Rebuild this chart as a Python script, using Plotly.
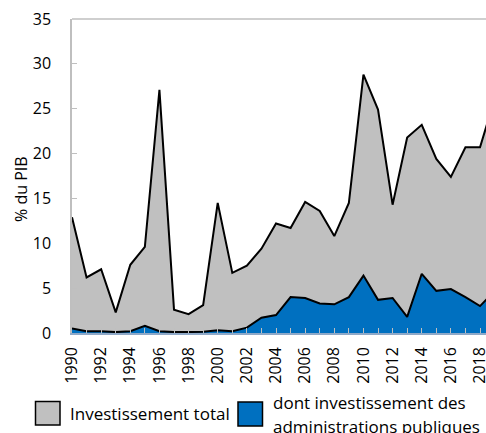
import plotly.graph_objects as go

years = list(range(1990, 2020))
total = [12.9, 6.2, 7.1, 2.3, 7.6, 9.6, 27.1, 2.6, 2.1, 3.1, 14.5, 6.7, 7.5, 9.4, 12.2, 11.7,
         14.6, 13.6, 10.8, 14.5, 28.8, 24.9, 14.3, 21.8, 23.2, 19.4, 17.4, 20.7, 20.7, 26.1]
public = [0.5, 0.2, 0.2, 0.1, 0.2, 0.8, 0.2, 0.1, 0.1, 0.15, 0.3, 0.2, 0.6, 1.7, 2.0, 4.0,
          3.9, 3.3, 3.2, 4.0, 6.4, 3.7, 3.9, 1.8, 6.6, 4.7, 4.9, 4.0, 3.0, 4.7]
tick_text = [str(y) if y % 2 == 0 else "" for y in years]
y_ticks = [0, 5, 10, 15, 20, 25, 30, 35]
legend_names = ["Investissement total", "dont investissement des", "administrations publiques"]

FONT = "Open Sans"
W, H = 486, 433
ML, MT = 72, 19
MR = 0
MB = H - 333
PW, PH = W - ML - MR, H - MT - MB

def px(x):
    return (x - ML) / PW

def py(y):
    return 1 - (y - MT) / PH

fig = go.Figure()
fig.add_trace(go.Scatter(x=years, y=total, mode="lines", fill="tozeroy",
                         fillcolor="#c0c0c0", line=dict(color="black", width=2),
                         name=legend_names[0], showlegend=False, hoverinfo="skip"))
fig.add_trace(go.Scatter(x=years, y=public, mode="lines", fill="tozeroy",
                         fillcolor="#0070c0", line=dict(color="black", width=2),
                         name=legend_names[1], showlegend=False, hoverinfo="skip"))

fig.update_layout(
    width=W, height=H,
    margin=dict(l=ML, r=MR, t=MT, b=MB, autoexpand=False),
    plot_bgcolor="white", paper_bgcolor="white",
    font=dict(family=FONT, size=16, color="black"),
    showlegend=False,
)
fig.update_xaxes(range=[1990, 2018.41], tickmode="array", tickvals=years, ticktext=tick_text,
                 tickangle=-90, ticks="inside", ticklen=5, tickcolor="#bfbfbf",
                 showline=True, linecolor="#8fa9c8", linewidth=1.5, mirror=False,
                 showgrid=False, zeroline=False, ticklabelstandoff=6, automargin=False,
                 ticklabeloverflow="allow", tickfont=dict(size=16, family=FONT))
fig.update_yaxes(range=[0, 35], tickmode="array", tickvals=y_ticks,
                 ticks="inside", ticklen=5, tickcolor="#bfbfbf",
                 showline=True, linecolor="#bfbfbf", linewidth=1.5,
                 showgrid=False, zeroline=False, ticklabelstandoff=16, automargin=False,
                 ticklabeloverflow="allow", tickfont=dict(size=16, family=FONT))

# top border line
fig.add_shape(type="line", xref="paper", yref="paper", x0=0, x1=1, y0=1, y1=1,
              line=dict(color="#bfbfbf", width=1.5))

# y axis title
fig.add_annotation(text="% du PIB", xref="paper", yref="paper", x=px(21), y=py(189),
                   textangle=-90, showarrow=False, xanchor="center", yanchor="middle",
                   font=dict(size=16, family=FONT))

# manual legend
fig.add_shape(type="rect", xref="paper", yref="paper", x0=px(35.5), x1=px(60), y0=py(401.5), y1=py(425),
              fillcolor="#c0c0c0", line=dict(color="black", width=1.5))
fig.add_shape(type="rect", xref="paper", yref="paper", x0=px(238), x1=px(262.5), y0=py(402), y1=py(426),
              fillcolor="#0070c0", line=dict(color="black", width=1.5))
fig.add_annotation(text=legend_names[0], xref="paper", yref="paper", x=px(68), y=py(413),
                   showarrow=False, xanchor="left", yanchor="middle", font=dict(size=17, family=FONT))
fig.add_annotation(text=legend_names[1], xref="paper", yref="paper", x=px(271), y=py(402),
                   showarrow=False, xanchor="left", yanchor="middle", font=dict(size=17, family=FONT))
fig.add_annotation(text=legend_names[2], xref="paper", yref="paper", x=px(271), y=py(426),
                   showarrow=False, xanchor="left", yanchor="middle", font=dict(size=17, family=FONT))

fig.write_html("out.html", config={"displayModeBar": False},
               post_script="document.body.style.margin='0';document.body.style.overflow='hidden';")
